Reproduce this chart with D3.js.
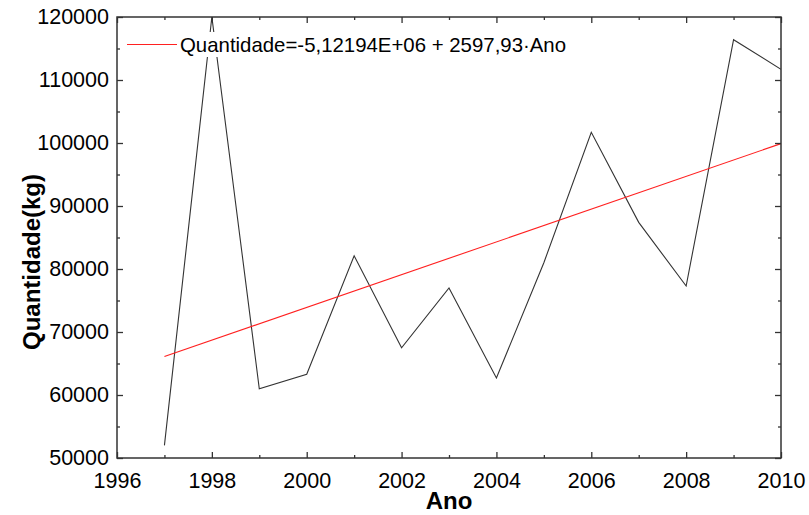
<!DOCTYPE html>
<html>
<head>
<meta charset="utf-8">
<title>Quantidade por Ano</title>
<script src="https://cdn.jsdelivr.net/npm/d3@7"></script>
<style>
  body { margin: 0; background: #fff; }
  text { font-family: "Liberation Sans", Arial, sans-serif; fill: #000; }
</style>
</head>
<body>
<script>
// data
var anos = [1997, 1998, 1999, 2000, 2001, 2002, 2003, 2004, 2005, 2006, 2007, 2008, 2009, 2010];
var quantidade = [52000, 120000, 61000, 63300, 82100, 67500, 77000, 62700, 81000, 101700, 87400, 77300, 116400, 111700];
// ends of the linear fit line
var fitAnos = [1997, 2010];
var fitValores = [66100, 99900];
var legendaTexto = "Quantidade=-5,12194E+06 + 2597,93\u00b7Ano";
var xTicks = [1996, 1998, 2000, 2002, 2004, 2006, 2008, 2010];
var yTicks = [50000, 60000, 70000, 80000, 90000, 100000, 110000, 120000];

var width = 809, height = 515,
    margins = { left: 117, top: 17, right: 28, bottom: 57 };

var svg = d3.select("body").append("svg")
    .attr("width", width)
    .attr("height", height);

var x = d3.scaleLinear().domain([1996, 2010]).range([margins.left, width - margins.right]);
var y = d3.scaleLinear().domain([50000, 120000]).range([height - margins.bottom, margins.top]);

var x0 = x.range()[0], x1 = x.range()[1], y0 = y.range()[0], y1 = y.range()[1];

// series
var line = d3.line()
    .x(function (d) { return x(d[0]); })
    .y(function (d) { return y(d[1]); });

svg.append("clipPath").attr("id", "plot")
  .append("rect").attr("x", x0).attr("y", y1).attr("width", x1 - x0).attr("height", y0 - y1);

svg.append("path")
    .datum(d3.zip(anos, quantidade))
    .attr("clip-path", "url(#plot)")
    .attr("fill", "none")
    .attr("stroke", "#333")
    .attr("stroke-width", 1.1)
    .attr("d", line);

svg.append("path")
    .datum(d3.zip(fitAnos, fitValores))
    .attr("fill", "none")
    .attr("stroke", "#ff2020")
    .attr("stroke-width", 1.1)
    .attr("d", line);

// legend (white box hides the peak behind it)
var leg = svg.append("g");
leg.append("rect")
    .attr("x", x0 + 3).attr("y", 32)
    .attr("width", 460).attr("height", 25)
    .attr("fill", "#fff");
leg.append("line")
    .attr("x1", x0 + 10).attr("x2", x0 + 60)
    .attr("y1", 44.5).attr("y2", 44.5)
    .attr("stroke", "#ff2020").attr("stroke-width", 1.1);
leg.append("text")
    .attr("x", x0 + 63).attr("y", 51.5)
    .style("font-size", "20.4px")
    .text(legendaTexto);

// axes: ticks inward on all four sides
var minorX = d3.range(1997, 2010, 2);
var minorY = d3.range(55000, 120000, 10000);

function axisStyle(g) {
  g.select(".domain").remove();
  g.selectAll(".tick line").attr("stroke", "#333").attr("stroke-width", 1.3);
  g.selectAll(".tick text").style("font-size", "21.5px").attr("fill", "#000");
}

svg.append("g")
    .attr("transform", "translate(0," + y0 + ")")
    .call(d3.axisBottom(x).tickValues(xTicks).tickFormat(d3.format("d")).tickSizeInner(-6).tickPadding(15))
    .call(axisStyle);
svg.append("g")
    .attr("transform", "translate(0," + y0 + ")")
    .call(d3.axisBottom(x).tickValues(minorX).tickFormat("").tickSizeInner(-3))
    .call(axisStyle);
svg.append("g")
    .attr("transform", "translate(0," + y1 + ")")
    .call(d3.axisTop(x).tickValues(xTicks).tickFormat("").tickSizeInner(-6))
    .call(axisStyle);
svg.append("g")
    .attr("transform", "translate(0," + y1 + ")")
    .call(d3.axisTop(x).tickValues(minorX).tickFormat("").tickSizeInner(-3))
    .call(axisStyle);

svg.append("g")
    .attr("transform", "translate(" + x0 + ",0)")
    .call(d3.axisLeft(y).tickValues(yTicks).tickFormat(d3.format("d")).tickSizeInner(-6).tickPadding(8))
    .call(axisStyle);
svg.append("g")
    .attr("transform", "translate(" + x0 + ",0)")
    .call(d3.axisLeft(y).tickValues(minorY).tickFormat("").tickSizeInner(-3))
    .call(axisStyle);
svg.append("g")
    .attr("transform", "translate(" + x1 + ",0)")
    .call(d3.axisRight(y).tickValues(yTicks).tickFormat("").tickSizeInner(-6))
    .call(axisStyle);
svg.append("g")
    .attr("transform", "translate(" + x1 + ",0)")
    .call(d3.axisRight(y).tickValues(minorY).tickFormat("").tickSizeInner(-3))
    .call(axisStyle);

// frame
svg.append("rect")
    .attr("x", x0).attr("y", y1)
    .attr("width", x1 - x0).attr("height", y0 - y1)
    .attr("fill", "none")
    .attr("stroke", "#333")
    .attr("stroke-width", 1.5);

// axis titles
svg.append("text")
    .attr("x", (x0 + x1) / 2).attr("y", 509)
    .attr("text-anchor", "middle")
    .style("font-size", "24px").style("font-weight", "bold")
    .text("Ano");
svg.append("text")
    .attr("transform", "translate(40,262) rotate(-90)")
    .attr("text-anchor", "middle")
    .style("font-size", "24px").style("font-weight", "bold")
    .text("Quantidade(kg)");
</script>
</body>
</html>
